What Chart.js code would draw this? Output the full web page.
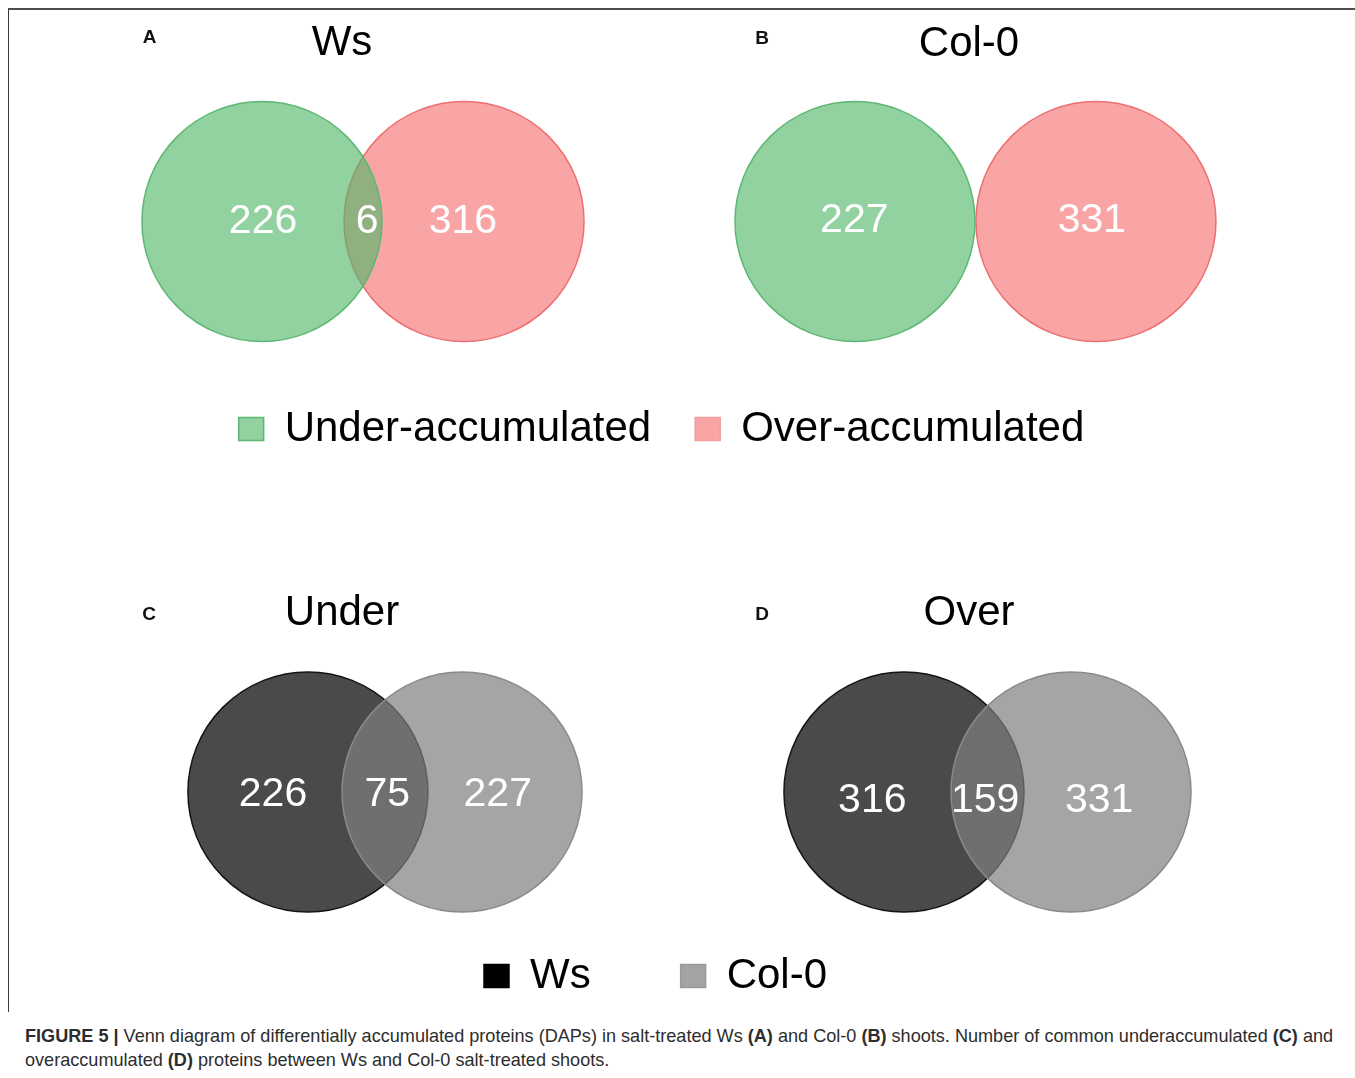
<!DOCTYPE html>
<html>
<head>
<meta charset="utf-8">
<script src="https://cdn.jsdelivr.net/npm/chart.js@4.4.1/dist/chart.umd.min.js"></script>
<style>
  html, body { margin: 0; padding: 0; background: #fff; }
  body { width: 1355px; height: 1078px; position: relative; overflow: hidden; font-family: "Liberation Sans", Arial, sans-serif; }
  .frame { position: absolute; left: 8px; top: 8px; width: 1347px; height: 1004px; border-top: 2px solid #4d4d4d; border-left: 1px solid #3a3a3a; box-sizing: border-box; }
  canvas { position: absolute; left: 0; }
  .tag { position: absolute; font-weight: bold; font-size: 19px; line-height: 1; transform: translate(-50%, -50%); color: #111; }
  .title { position: absolute; font-size: 42px; line-height: 1; transform: translate(-50%, -50%); color: #000; white-space: nowrap; }
  .caption { position: absolute; left: 25px; top: 1024px; font-size: 18.1px; line-height: 24px; color: #2d2d2d; white-space: nowrap; }
</style>
</head>
<body>
<div class="frame"></div>
<canvas id="venn-top" width="1355" height="470" style="top:0"></canvas>
<canvas id="venn-bottom" width="1355" height="530" style="top:480px"></canvas>
<div id="labels"></div>
<div class="caption"><b>FIGURE 5 |</b> Venn diagram of differentially accumulated proteins (DAPs) in salt-treated Ws <b>(A)</b> and Col-0 <b>(B)</b> shoots. Number of common underaccumulated <b>(C)</b> and<br>overaccumulated <b>(D)</b> proteins between Ws and Col-0 salt-treated shoots.</div>
<script>
const panelIds = ["A", "B", "C", "D"];
const panelTitles = ["Ws", "Col-0", "Under", "Over"];
const topSets = ["Under-accumulated", "Over-accumulated"];
const bottomSets = ["Ws", "Col-0"];
// counts per panel: [only first set, shared, only second set]
const wsCounts = [226, 6, 316];
const colCounts = [227, null, 331];
const underCounts = [226, 75, 227];
const overCounts = [316, 159, 331];

// layout: one scale unit = one circle radius
const R = 120;
const PAGE_W = 1355;
const LEGEND_FONT = 42;

const geometry = {
  A: { cx: 3.025, half: 0.842, label: [-0.833, 0.035, 0.833], dy: 0 },
  B: { cx: 8.129, half: 1.004, label: [-1.01, 0, 0.97], dy: 0.01 },
  C: { cx: 3.208, half: 0.642, label: [-0.933, 0.02, 0.94], dy: -0.025 },
  D: { cx: 8.229, half: 0.696, label: [-0.96, -0.02, 0.93], dy: -0.075 },
};

const headings = [
  { x: 342, y: 41 }, { x: 969, y: 42 }, { x: 342, y: 611 }, { x: 969, y: 611 },
];
const tags = [
  { x: 149.5, y: 36 }, { x: 762, y: 37 }, { x: 149, y: 613 }, { x: 762, y: 613 },
];

const colors = {
  under: { fill: "rgba(82,182,105,0.63)", line: "#5db873", key: "#92d1a0", keyLine: "#5db873" },
  over: { fill: "#f9a5a6", line: "#ef6f70", key: "#f9a5a6", keyLine: "#f59c9d" },
  ws: { fill: "#4a4a4a", line: "#141414", key: "#000000", keyLine: "#000000" },
  col: { fill: "rgba(127,127,127,0.7)", line: "#8a8a8a", key: "#a3a3a3", keyLine: "#9a9a9a" },
};

Chart.defaults.font.family = '"Liberation Sans", Arial, sans-serif';

const labelBox = document.getElementById("labels");
panelIds.forEach((id, i) => {
  const tag = document.createElement("div");
  tag.className = "tag";
  tag.textContent = id;
  tag.style.left = tags[i].x + "px";
  tag.style.top = tags[i].y + "px";
  labelBox.appendChild(tag);

  const title = document.createElement("div");
  title.className = "title";
  title.textContent = panelTitles[i];
  title.style.left = headings[i].x + "px";
  title.style.top = headings[i].y + "px";
  labelBox.appendChild(title);
});

const unitRadius = (context) => {
  const x = context.chart.scales.x;
  return x.getPixelForValue(1) - x.getPixelForValue(0);
};

const circle = (label, geo, side, color, order) => ({
  label,
  data: [{ x: geo.cx + side * geo.half, y: 0 }],
  pointRadius: unitRadius,
  pointBackgroundColor: color.fill,
  pointBorderColor: color.line,
  pointBorderWidth: 1.5,
  clip: false,
  order,
});

const makeCountPlugin = (panels) => ({
  id: "countLabels",
  afterDatasetsDraw(chart) {
    const { ctx, scales: { x, y } } = chart;
    ctx.save();
    ctx.font = '41px "Liberation Sans", Arial, sans-serif';
    ctx.fillStyle = "#ffffff";
    ctx.textAlign = "center";
    ctx.textBaseline = "middle";
    panels.forEach(({ counts, geo }) => {
      counts.forEach((value, i) => {
        if (value == null) return;
        ctx.fillText(String(value), x.getPixelForValue(geo.cx + geo.label[i]), y.getPixelForValue(geo.dy));
      });
    });
    ctx.restore();
  },
});

const makeRow = (canvasId, row, panels, datasets, legendNames, legendColors) => {
  const legendH = LEGEND_FONT + row.legendPad + 10;
  const areaBottom = row.height - row.padBottom - legendH;
  const midY = row.centerY - row.top;

  new Chart(document.getElementById(canvasId), {
    type: "scatter",
    data: { datasets },
    options: {
      responsive: false,
      animation: false,
      events: [],
      layout: { padding: { top: row.padTop, bottom: row.padBottom, left: 0, right: row.padRight } },
      scales: {
        x: { type: "linear", display: false, min: 0, max: (PAGE_W - row.padRight) / R },
        y: { type: "linear", display: false, min: -(areaBottom - midY) / R, max: (midY - row.padTop) / R },
      },
      plugins: {
        tooltip: { enabled: false },
        legend: {
          position: "bottom",
          onClick: null,
          labels: {
            boxWidth: 25,
            boxHeight: 23,
            padding: row.legendPad,
            color: "#000",
            font: { size: LEGEND_FONT },
            generateLabels: () => legendNames.map((name, i) => ({
              text: name,
              fillStyle: legendColors[i].key,
              strokeStyle: legendColors[i].keyLine,
              lineWidth: 1.5,
              datasetIndex: i,
            })),
          },
        },
      },
    },
    plugins: [makeCountPlugin(panels)],
  });
};

makeRow(
  "venn-top",
  { top: 0, height: 470, padTop: 72, padBottom: 10, padRight: 32, legendPad: 44, centerY: 221.5 },
  [{ counts: wsCounts, geo: geometry.A }, { counts: colCounts, geo: geometry.B }],
  [
    circle("Ws " + topSets[0], geometry.A, -1, colors.under, 1),
    circle("Ws " + topSets[1], geometry.A, 1, colors.over, 2),
    circle("Col-0 " + topSets[0], geometry.B, -1, colors.under, 1),
    circle("Col-0 " + topSets[1], geometry.B, 1, colors.over, 2),
  ],
  topSets,
  [colors.under, colors.over]
);

makeRow(
  "venn-bottom",
  { top: 480, height: 530, padTop: 150, padBottom: 3, padRight: 44, legendPad: 90, centerY: 792 },
  [{ counts: underCounts, geo: geometry.C }, { counts: overCounts, geo: geometry.D }],
  [
    circle("Under " + bottomSets[0], geometry.C, -1, colors.ws, 2),
    circle("Under " + bottomSets[1], geometry.C, 1, colors.col, 1),
    circle("Over " + bottomSets[0], geometry.D, -1, colors.ws, 2),
    circle("Over " + bottomSets[1], geometry.D, 1, colors.col, 1),
  ],
  bottomSets,
  [colors.ws, colors.col]
);
</script>
</body>
</html>
